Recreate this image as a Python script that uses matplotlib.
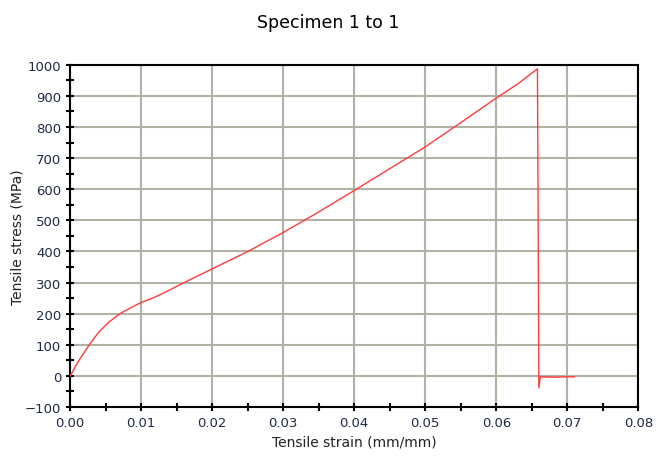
import numpy as np
import matplotlib.pyplot as plt
from matplotlib.ticker import MultipleLocator

# Curva tensão-deformação
strain = [0.0, 0.0012, 0.0026, 0.0040, 0.0054, 0.0070, 0.0086, 0.0100, 0.0119,
          0.0133, 0.0164, 0.0200, 0.0251, 0.0300, 0.0350, 0.0400, 0.0450,
          0.0500, 0.0550, 0.0600, 0.0630, 0.0658, 0.0659, 0.0660, 0.0662,
          0.0680, 0.0700, 0.0710]
stress = [0.0, 49.0, 97.0, 140.0, 172.0, 200.0, 220.0, 236.0, 253.0,
          268.0, 304.0, 344.0, 401.0, 461.0, 527.0, 596.0, 666.0,
          736.0, 814.0, 893.0, 938.0, 987.0, 500.0, -39.0, -3.0,
          -4.0, -3.0, -3.0]

fig, ax = plt.subplots(figsize=(6.56, 4.60), dpi=100)
fig.subplots_adjust(left=0.107, right=0.973, top=0.857, bottom=0.113)

ax.plot(strain, stress, color='#ff3b3b', linewidth=1.0, zorder=3)

ax.set_xlim(0, 0.08)
ax.set_ylim(-100, 1000)
ax.xaxis.set_major_locator(MultipleLocator(0.01))
ax.xaxis.set_minor_locator(MultipleLocator(0.005))
ax.yaxis.set_major_locator(MultipleLocator(100))
ax.yaxis.set_minor_locator(MultipleLocator(50))
ax.xaxis.set_major_formatter(plt.FuncFormatter(lambda v, p: f'{v:.2f}'))
ax.tick_params(which='both', direction='inout', length=6, width=1.5,
               labelsize=9.5, labelcolor='#1f2a44')
ax.grid(True, which='major', color='#b3b1a3', linewidth=1.5)
for s in ax.spines.values():
    s.set_linewidth(1.5)

ax.set_xlabel('Tensile strain (mm/mm)', fontsize=10, color='#222222')
ax.set_ylabel('Tensile stress (MPa)', fontsize=10, color='#222222', labelpad=0)
fig.suptitle('Specimen 1 to 1', fontsize=12.5, y=0.97)

plt.savefig('out.png', dpi=100)
